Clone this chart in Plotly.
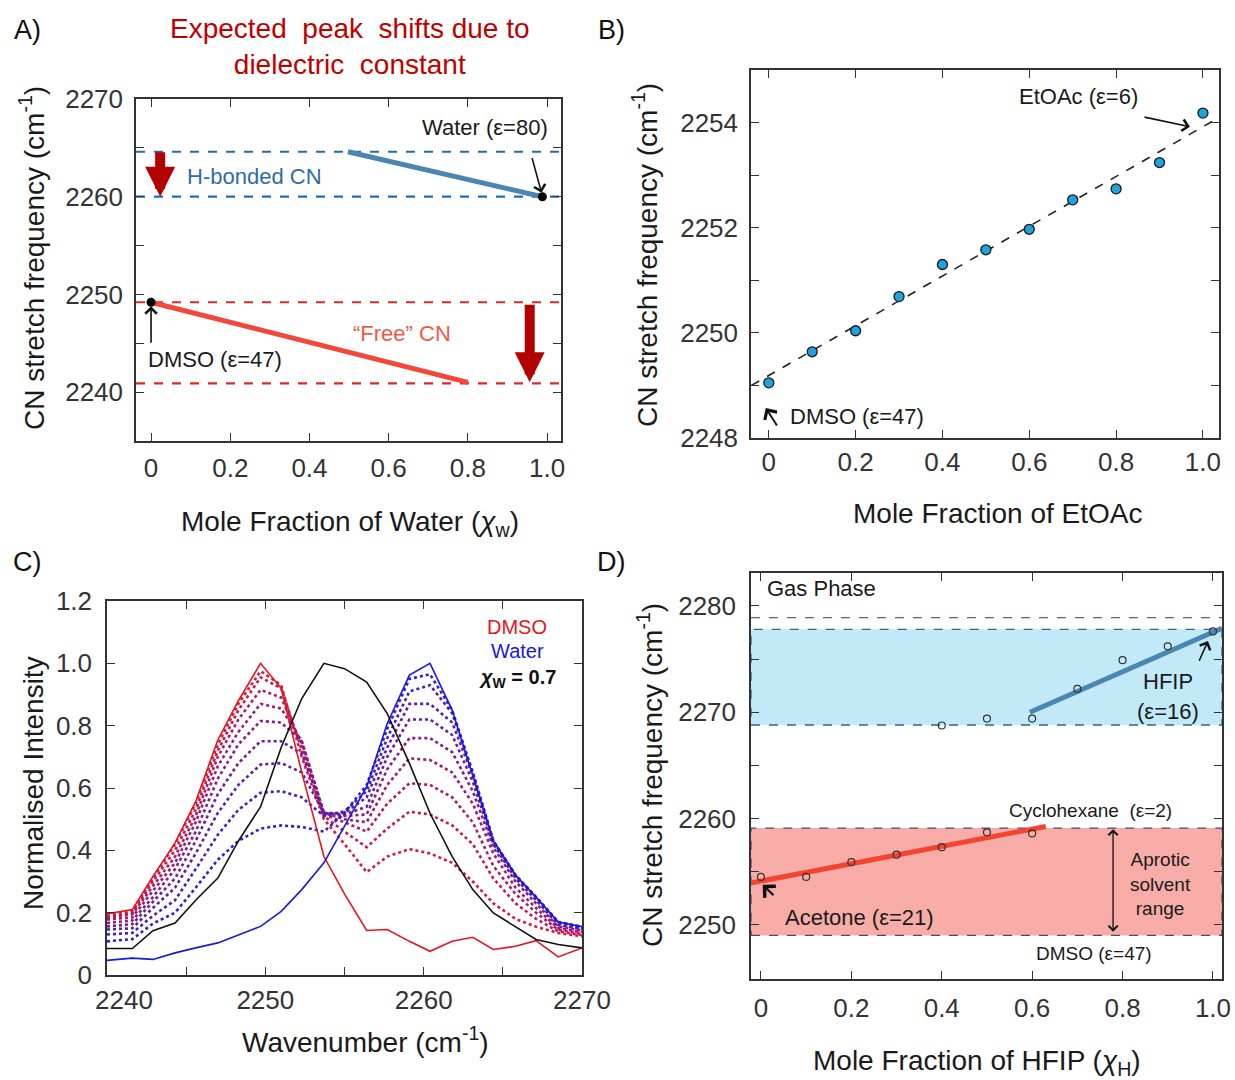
import plotly.graph_objects as go

FONT = "Liberation Sans, Arial, sans-serif"

# ---------------- Panel A data ----------------
a_hbond_levels = [2264.6, 2260.0]
a_free_levels = [2249.2, 2240.9]
a_water_line_x = [0.497, 0.988]
a_water_line_y = [2264.6, 2260.0]
a_free_line_x = [0.0, 0.80]
a_free_line_y = [2249.2, 2241.0]
a_end_x = [0.0, 0.988]
a_end_y = [2249.2, 2260.0]

# ---------------- Panel B data ----------------
b_x = [0.0, 0.1, 0.2, 0.3, 0.4, 0.5, 0.6, 0.7, 0.8, 0.9, 1.0]
b_y = [2249.05, 2249.64, 2250.04, 2250.69, 2251.30, 2251.58, 2251.97, 2252.53, 2252.74, 2253.24, 2254.18]
b_fit_x = [-0.04, 1.04]
b_fit_y = [2249.0, 2254.11]

# ---------------- Panel C data ----------------
c_wn = [2240.0, 2241.6, 2242.9, 2244.3, 2245.6, 2247.0, 2248.3, 2249.7, 2251.0, 2252.3, 2253.7, 2255.0,
        2256.4, 2257.7, 2259.1, 2260.4, 2261.8, 2263.1, 2264.4, 2265.8, 2267.1, 2268.5, 2270.0]
c_dmso = [0.196, 0.21, 0.316, 0.424, 0.556, 0.754, 0.88, 1.0, 0.92, 0.65, 0.38, 0.26,
          0.143, 0.146, 0.108, 0.076, 0.108, 0.121, 0.082, 0.092, 0.110, 0.058, 0.087]
c_water = [0.047, 0.054, 0.050, 0.071, 0.087, 0.103, 0.128, 0.156, 0.204, 0.274, 0.36, 0.476,
           0.604, 0.807, 0.962, 1.0, 0.85, 0.64, 0.43, 0.32, 0.25, 0.17, 0.155]
c_xw07 = [0.085, 0.085, 0.142, 0.167, 0.24, 0.311, 0.43, 0.54, 0.73, 0.887, 1.0, 0.983,
          0.94, 0.839, 0.679, 0.519, 0.38, 0.274, 0.199, 0.156, 0.114, 0.098, 0.087]
c_mix1 = [.190, .205, .310, .420, .550, .740, .870, .975, .930, .700, .500, .420, .330, .380, .404, .390, .360, .300, .230, .180, .155, .135, .124]
c_mix2 = [.188, .200, .300, .400, .530, .720, .850, .955, .920, .720, .510, .460, .410, .470, .524, .515, .480, .420, .310, .230, .180, .140, .128]
c_mix3 = [.183, .195, .285, .380, .510, .700, .820, .915, .890, .740, .515, .490, .460, .550, .615, .610, .570, .490, .350, .260, .200, .145, .133]
c_mix4 = [.178, .185, .270, .360, .490, .670, .780, .870, .855, .750, .520, .500, .490, .610, .695, .690, .650, .550, .390, .280, .215, .150, .138]
c_mix5 = [.167, .175, .250, .340, .460, .630, .740, .815, .810, .750, .520, .510, .515, .660, .760, .760, .715, .590, .410, .300, .230, .155, .143]
c_mix6 = [.156, .163, .235, .310, .430, .580, .680, .750, .750, .710, .520, .515, .540, .700, .820, .820, .770, .620, .420, .310, .240, .160, .147]
c_mix7 = [.146, .150, .215, .280, .390, .520, .610, .675, .680, .650, .520, .520, .570, .730, .870, .870, .810, .640, .430, .320, .245, .165, .150]
c_mix8 = [.130, .135, .190, .240, .340, .450, .530, .585, .590, .570, .510, .525, .590, .760, .910, .930, .840, .650, .430, .320, .250, .170, .152]
c_mix9 = [.108, .115, .165, .200, .280, .370, .430, .470, .480, .475, .460, .520, .610, .790, .950, .965, .850, .650, .430, .320, .250, .170, .155]
c_mixes = [c_mix1, c_mix2, c_mix3, c_mix4, c_mix5, c_mix6, c_mix7, c_mix8, c_mix9]

# ---------------- Panel D data ----------------
d_aprotic_x = [0.0, 0.1, 0.2, 0.3, 0.4, 0.5, 0.6]
d_aprotic_y = [2254.5, 2254.5, 2255.9, 2256.6, 2257.3, 2258.7, 2258.6]
d_protic_x = [0.4, 0.5, 0.6, 0.7, 0.8, 0.9, 1.0]
d_protic_y = [2268.75, 2269.4, 2269.4, 2272.2, 2274.9, 2276.2, 2277.6]
d_fit_red_x = [-0.02, 0.63]
d_fit_red_y = [2253.95, 2259.25]
d_fit_blue_x = [0.595, 1.02]
d_fit_blue_y = [2270.0, 2277.9]
d_aprotic_band = [2249.0, 2259.1]
d_protic_band = [2268.8, 2277.8]
d_gas_level = 2278.9

W, H = 1235, 1080


def px(xp):
    return xp / W


def py(yp):
    return 1 - yp / H


fig = go.Figure()

# ---- Panel A traces ----
fig.add_trace(go.Scatter(x=a_water_line_x, y=a_water_line_y, mode="lines",
                         line=dict(color="#4a86b2", width=5), xaxis="x", yaxis="y"))
fig.add_trace(go.Scatter(x=a_free_line_x, y=a_free_line_y, mode="lines",
                         line=dict(color="#f2473a", width=5), xaxis="x", yaxis="y"))
fig.add_trace(go.Scatter(x=a_end_x, y=a_end_y, mode="markers",
                         marker=dict(color="black", size=9), xaxis="x", yaxis="y"))

# ---- Panel B traces ----
fig.add_trace(go.Scatter(x=b_fit_x, y=b_fit_y, mode="lines",
                         line=dict(color="#222", width=1.6, dash="dash"), xaxis="x2", yaxis="y2"))
fig.add_trace(go.Scatter(x=b_x, y=b_y, mode="markers",
                         marker=dict(color="#1ea3dc", size=10, line=dict(color="#1a1a1a", width=1.3)),
                         xaxis="x2", yaxis="y2"))

# ---- Panel C traces ----
n = len(c_mixes)
for j, ys in enumerate(c_mixes):
    t = j / (n - 1)
    r = round(222 + (45 - 222) * t)
    g = round(22 + (30 - 22) * t)
    b = round(60 + (215 - 60) * t)
    fig.add_trace(go.Scatter(x=c_wn, y=ys, mode="lines",
                             line=dict(color=f"rgb({r},{g},{b})", width=2.6, dash="dot"),
                             xaxis="x3", yaxis="y3"))
fig.add_trace(go.Scatter(x=c_wn, y=c_dmso, mode="lines", line=dict(color="#e8141c", width=1.6),
                         xaxis="x3", yaxis="y3"))
fig.add_trace(go.Scatter(x=c_wn, y=c_water, mode="lines", line=dict(color="#1818e0", width=1.6),
                         xaxis="x3", yaxis="y3"))
fig.add_trace(go.Scatter(x=c_wn, y=c_xw07, mode="lines", line=dict(color="#111", width=1.6),
                         xaxis="x3", yaxis="y3"))

# ---- Panel D traces ----
fig.add_trace(go.Scatter(x=d_fit_red_x, y=d_fit_red_y, mode="lines",
                         line=dict(color="#f4432f", width=5), xaxis="x4", yaxis="y4"))
fig.add_trace(go.Scatter(x=d_fit_blue_x, y=d_fit_blue_y, mode="lines",
                         line=dict(color="#4a86b4", width=5), xaxis="x4", yaxis="y4"))
fig.add_trace(go.Scatter(x=d_aprotic_x + d_protic_x, y=d_aprotic_y + d_protic_y, mode="markers",
                         marker=dict(symbol="circle-open", color="#333", size=7, line=dict(width=1.2)),
                         xaxis="x4", yaxis="y4"))

shapes = []
for lv in a_hbond_levels:
    shapes.append(dict(type="line", xref="x domain", yref="y", x0=0, x1=1, y0=lv, y1=lv,
                       line=dict(color="#1f6fb0", width=2.2, dash="dash"), layer="below"))
for lv in a_free_levels:
    shapes.append(dict(type="line", xref="x domain", yref="y", x0=0, x1=1, y0=lv, y1=lv,
                       line=dict(color="#e0262e", width=2.2, dash="dash"), layer="below"))
shapes.append(dict(type="rect", xref="x4 domain", yref="y4", x0=0, x1=1,
                   y0=d_protic_band[0], y1=d_protic_band[1], fillcolor="#c2e9f8",
                   line=dict(color="#2f6394", width=1.3, dash="dash"), layer="below"))
shapes.append(dict(type="rect", xref="x4 domain", yref="y4", x0=0, x1=1,
                   y0=d_aprotic_band[0], y1=d_aprotic_band[1], fillcolor="#f8aca8",
                   line=dict(color="#4a4a6e", width=1.3, dash="dash"), layer="below"))
shapes.append(dict(type="line", xref="x4 domain", yref="y4", x0=0, x1=1, y0=d_gas_level, y1=d_gas_level,
                   line=dict(color="#7b4f9e", width=1.4, dash="dash"), layer="below"))

ann = []


def txt(text, x, y, xref, yref, size=22, color="#1a1a1a", xanchor="center", yanchor="middle", angle=0, **kw):
    ann.append(dict(text=text, x=x, y=y, xref=xref, yref=yref, showarrow=False, xanchor=xanchor,
                    yanchor=yanchor, textangle=angle, font=dict(size=size, color=color, family=FONT), **kw))


def arrow(x, y, ax, ay, xr, yr, color="#111", width=1.6, head=4, size=1.4, side="end"):
    ann.append(dict(text="", x=x, y=y, ax=ax, ay=ay, xref=xr, yref=yr, axref=xr, ayref=yr,
                    showarrow=True, arrowhead=head, arrowsize=size, arrowwidth=width,
                    arrowcolor=color, arrowside=side, startarrowhead=head, startarrowsize=size,
                    standoff=0, startstandoff=0))


# panel labels
txt("A)", px(27), py(30), "paper", "paper", size=27, color="#111")
txt("B)", px(611), py(30), "paper", "paper", size=27, color="#111")
txt("C)", px(27), py(562), "paper", "paper", size=27, color="#111")
txt("D)", px(611), py(562), "paper", "paper", size=27, color="#111")

# Panel A text
txt("Expected  peak  shifts due to<br>dielectric  constant", px(350), py(46), "paper", "paper",
    size=28, color="#c00000")
txt("CN stretch frequency (cm<sup>-1</sup>)", px(32), py(258), "paper", "paper", size=28, angle=-90)
txt("Mole Fraction of Water (<i>χ</i><sub>w</sub>)", px(350), py(523), "paper", "paper", size=28)
txt("Water (ε=80)", 1.008, 2267.1, "x", "y", size=22, xanchor="right")
txt("H-bonded CN", 0.086, 2262.1, "x", "y", size=22, color="#2e6ca8", xanchor="left")
txt("“Free” CN", 0.634, 2246.0, "x", "y", size=22, color="#f05a44")
txt("DMSO (ε=47)", -0.012, 2243.3, "x", "y", size=22, xanchor="left")
arrow(0.0, 2248.8, 0.0, 2244.9, "x", "y")
arrow(0.986, 2260.4, 0.961, 2264.1, "x", "y")
arrow(0.023, 2260.0, 0.023, 2264.7, "x", "y", color="#b30000", width=10, head=2, size=0.6)
arrow(0.956, 2241.0, 0.956, 2249.1, "x", "y", color="#b30000", width=10, head=2, size=0.6)

# Panel B text
txt("CN stretch frequency (cm<sup>-1</sup>)", px(645), py(255), "paper", "paper", size=28, angle=-90)
txt("Mole Fraction of EtOAc", px(997), py(513), "paper", "paper", size=28)
txt("EtOAc (ε=6)", 0.714, 2254.5, "x2", "y2", size=22)
txt("DMSO (ε=47)", 0.044, 2248.4, "x2", "y2", size=22, xanchor="left")
arrow(0.970, 2253.92, 0.862, 2254.11, "x2", "y2")
arrow(-0.007, 2248.57, 0.021, 2248.21, "x2", "y2", width=2)

# Panel C text
txt("Normalised Intensity", px(33), py(783), "paper", "paper", size=28, angle=-90)
txt("Wavenumber (cm<sup>-1</sup>)", px(365), py(1040), "paper", "paper", size=28)
txt("2240", px(124), py(1000), "paper", "paper", size=26, color="#333")
txt("DMSO", 2265.9, 1.118, "x3", "y3", size=20, color="#e8141c")
txt("Water", 2265.9, 1.038, "x3", "y3", size=20, color="#1818e0")
txt("<b><i>χ</i><sub>W</sub> = 0.7</b>", 2265.9, 0.952, "x3", "y3", size=20, color="#111")

# Panel D text
txt("CN stretch frequency (cm<sup>-1</sup>)", px(650), py(775), "paper", "paper", size=28, angle=-90)
txt("Mole Fraction of HFIP (<i>χ</i><sub>H</sub>)", px(977), py(1062), "paper", "paper", size=28)
txt("Gas Phase", 0.009, 2281.6, "x4", "y4", size=22, xanchor="left")
txt("HFIP", 0.90, 2272.9, "x4", "y4", size=22)
txt("(ε=16)", 0.90, 2270.1, "x4", "y4", size=22)
txt("Cyclohexane  (ε=2)", 0.728, 2260.8, "x4", "y4", size=19)
txt("DMSO (ε=47)", 0.737, 2247.3, "x4", "y4", size=19)
txt("Aprotic<br>solvent<br>range", 0.883, 2253.85, "x4", "y4", size=19)
txt("Acetone (ε=21)", 0.217, 2250.7, "x4", "y4", size=22)
arrow(0.989, 2276.7, 0.968, 2274.7, "x4", "y4")
arrow(0.779, 2259.0, 0.779, 2249.2, "x4", "y4", width=1.3, side="end+start")
arrow(0.004, 2253.76, 0.031, 2252.66, "x4", "y4", width=2.2)

axis_common = dict(showline=True, linecolor="#333", linewidth=1.5, mirror="allticks", ticks="inside",
                   ticklen=8, tickwidth=1.4, tickcolor="#333", showgrid=False, zeroline=False,
                   automargin=False, tickfont=dict(size=26, color="#333", family=FONT))

x01 = [0, 0.2, 0.4, 0.6, 0.8, 1.0]
x01t = ["0", "0.2", "0.4", "0.6", "0.8", "1.0"]

layout = dict(
    width=W, height=H, margin=dict(l=0, r=0, t=0, b=0, autoexpand=False), showlegend=False,
    paper_bgcolor="white", plot_bgcolor="white", font=dict(family=FONT),
    xaxis=dict(axis_common, domain=[px(136), px(561)], range=[-0.038, 1.035], anchor="y",
               tickvals=x01, ticktext=x01t, ticklabelstandoff=3),
    yaxis=dict(axis_common, domain=[py(441), py(99)], range=[2235, 2270], anchor="x",
               tickvals=[2240, 2245, 2250, 2255, 2260, 2265, 2270],
               ticktext=["2240", "", "2250", "", "2260", "", "2270"], ticklabelstandoff=6),
    xaxis2=dict(axis_common, domain=[px(751), px(1219)], range=[-0.041, 1.037], anchor="y2",
                tickvals=x01, ticktext=x01t, ticklabelstandoff=0),
    yaxis2=dict(axis_common, domain=[py(438), py(70)], range=[2248, 2255], anchor="x2",
                tickvals=[2248, 2249, 2250, 2251, 2252, 2253, 2254, 2255],
                ticktext=["2248", "", "2250", "", "2252", "", "2254", ""], ticklabelstandoff=6),
    xaxis3=dict(axis_common, domain=[px(107), px(582)], range=[2240, 2270], anchor="y3",
                tickvals=[2240, 2245, 2250, 2255, 2260, 2265, 2270],
                ticktext=["", "", "2250", "", "2260", "", "2270"], ticklabelstandoff=1),
    yaxis3=dict(axis_common, domain=[py(975), py(601)], range=[0, 1.2], anchor="x3",
                tickvals=[0, 0.2, 0.4, 0.6, 0.8, 1.0, 1.2],
                ticktext=["0", "0.2", "0.4", "0.6", "0.8", "1.0", "1.2"], ticklabelstandoff=8),
    xaxis4=dict(axis_common, domain=[px(751), px(1222)], range=[-0.022, 1.02], anchor="y4",
                tickvals=x01, ticktext=x01t, ticklabelstandoff=5),
    yaxis4=dict(axis_common, domain=[py(979), py(573)], range=[2244.9, 2283.1], anchor="x4",
                tickvals=[2250, 2255, 2260, 2265, 2270, 2275, 2280],
                ticktext=["2250", "", "2260", "", "2270", "", "2280"], ticklabelstandoff=8),
    shapes=shapes, annotations=ann,
)
fig.update_layout(**layout)
fig.write_html("out.html")
